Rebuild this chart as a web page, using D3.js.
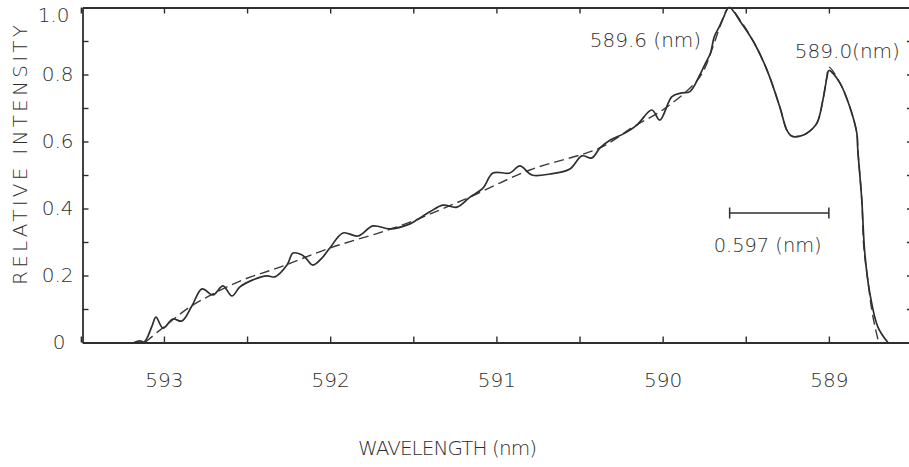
<!DOCTYPE html>
<html>
<head>
<meta charset="utf-8">
<script src="https://cdn.jsdelivr.net/npm/d3@7"></script>
<style>
  html, body { margin: 0; padding: 0; background: #fff; }
  svg text { font-family: 'DejaVu Sans', 'Liberation Sans', sans-serif; font-weight: 200; fill: #2e2e2e; }
</style>
</head>
<body>
<svg id="chart" width="909" height="467"></svg>
<script>
// Measured sodium D-line spectrum (solid) and fitted profile (dashed)
const measuredWavelength = [593.18, 593.145, 593.12, 593.102, 593.072, 593.048, 593.006, 592.946, 592.892, 592.832,
  592.771, 592.705, 592.645, 592.591, 592.543, 592.465, 592.380, 592.332, 592.260, 592.224,
  592.182, 592.152, 592.104, 592.050, 592.002, 591.923, 591.833, 591.743, 591.641, 591.520,
  591.478, 591.400, 591.322, 591.238, 591.159, 591.081, 591.021, 590.919, 590.859, 590.786,
  590.678, 590.558, 590.486, 590.426, 590.377, 590.317, 590.227, 590.155, 590.065, 590.017,
  589.944, 589.884, 589.836, 589.776, 589.742, 589.712, 589.690, 589.660, 589.635, 589.600,
  589.527, 589.449, 589.372, 589.295, 589.253, 589.223, 589.174, 589.132, 589.072, 589.036,
  589.012, 589.000, 588.934, 588.874, 588.832, 588.826, 588.802, 588.784, 588.754, 588.705, 588.645];
const measuredIntensity = [0.000, 0.005, 0.001, 0.013, 0.049, 0.076, 0.043, 0.070, 0.064, 0.109,
  0.160, 0.142, 0.169, 0.139, 0.166, 0.187, 0.199, 0.196, 0.231, 0.267,
  0.264, 0.255, 0.231, 0.252, 0.282, 0.327, 0.318, 0.348, 0.339, 0.354,
  0.366, 0.390, 0.410, 0.404, 0.434, 0.461, 0.506, 0.506, 0.527, 0.500,
  0.503, 0.518, 0.557, 0.551, 0.581, 0.604, 0.625, 0.649, 0.694, 0.664,
  0.734, 0.745, 0.749, 0.799, 0.834, 0.864, 0.912, 0.942, 0.969, 1.000,
  0.954, 0.894, 0.813, 0.703, 0.634, 0.616, 0.616, 0.625, 0.655, 0.724,
  0.790, 0.812, 0.775, 0.703, 0.625, 0.575, 0.425, 0.267, 0.148, 0.046, 0.000];

const fittedWavelength = [593.114, 593.024, 592.844, 592.705, 592.525, 592.302, 592.002, 591.598, 591.202, 590.799,
  590.377, 590.179, 589.974, 589.776, 589.690, 589.647, 589.600,
  589.527, 589.449, 589.372, 589.295, 589.253, 589.223, 589.174, 589.132, 589.072, 589.036,
  589.012, 589.000, 588.934, 588.874, 588.832, 588.826, 588.802, 588.790, 588.766, 588.742, 588.718, 588.700];
const fittedIntensity = [0.000, 0.037, 0.106, 0.145, 0.187, 0.225, 0.282, 0.345, 0.425, 0.515,
  0.581, 0.643, 0.703, 0.793, 0.894, 0.954, 1.000,
  0.957, 0.894, 0.813, 0.703, 0.634, 0.616, 0.616, 0.625, 0.655, 0.724,
  0.795, 0.822, 0.775, 0.703, 0.625, 0.575, 0.425, 0.285, 0.187, 0.097, 0.037, 0.000];

// Axis ticks
const xMajorTicks = [593, 592, 591, 590, 589];
const xMinorTicks = [593.5, 593, 592.5, 592, 591.5, 591, 590.5, 590, 589.5, 589, 588.5];
const yTicks = [0, 0.1, 0.2, 0.3, 0.4, 0.5, 0.6, 0.7, 0.8, 0.9, 1.0];
const yTickLabels = ["0", "", "0.2", "", "0.4", "", "0.6", "", "0.8", "", "1.0"];

// Annotations
const peakLines = [589.6, 589.0];
const peakLabels = ["589.6 (nm)", "589.0(nm)"];
const separation = 0.597;
const separationLabel = "0.597 (nm)";
const xTitle = "WAVELENGTH (nm)";
const yTitle = "RELATIVE INTENSITY";

const svg = d3.select("#chart");
const plotLeft = 82.5, plotRight = 912, plotTop = 7.5, plotBottom = 342.5;

const x = d3.scaleLinear().domain([593.49, 588.5]).range([plotLeft, plotRight]);
const y = d3.scaleLinear().domain([0, 1]).range([plotBottom, plotTop]);

const ink = "#2e2e2e";
const fontSize = 20;

function styleAxis(g) {
  g.selectAll("path.domain").attr("stroke", ink).attr("stroke-width", 1.8);
  g.selectAll(".tick line").attr("stroke", ink).attr("stroke-width", 1.4);
  g.selectAll(".tick text").attr("font-size", fontSize).attr("fill", ink)
    .attr("font-family", "'DejaVu Sans', 'Liberation Sans', sans-serif").attr("font-weight", 200);
}

// Bottom axis: ticks every 0.5 nm, labels on whole nanometres
svg.append("g")
  .attr("transform", `translate(0,${plotBottom})`)
  .call(d3.axisBottom(x).tickValues(xMinorTicks)
    .tickSizeInner(-6).tickSizeOuter(0).tickPadding(30)
    .tickFormat(d => xMajorTicks.includes(d) ? d3.format("d")(d) : ""))
  .call(styleAxis);

// Top frame
svg.append("g")
  .attr("transform", `translate(0,${plotTop})`)
  .call(d3.axisTop(x).tickValues(xMinorTicks).tickSizeInner(-6).tickSizeOuter(0).tickFormat(""))
  .call(styleAxis);

// Left axis
const yAxisG = svg.append("g")
  .attr("transform", `translate(${plotLeft},0)`)
  .call(d3.axisLeft(y).tickValues(yTicks)
    .tickSizeInner(-6).tickSizeOuter(0).tickPadding(9)
    .tickFormat((d, i) => yTickLabels[i]))
  .call(styleAxis);
yAxisG.selectAll(".tick text").filter(d => d === 0).attr("dx", -8);
yAxisG.selectAll(".tick text").filter(d => d === 1).attr("dx", -4).attr("transform", "translate(0,8)");

// Right frame
svg.append("g")
  .attr("transform", `translate(${plotRight},0)`)
  .call(d3.axisRight(y).tickValues(yTicks).tickSizeInner(-5).tickSizeOuter(0).tickFormat(""))
  .call(styleAxis);

// Spectra
const line = d3.line()
  .x(d => x(d[0]))
  .y(d => y(d[1]))
  .curve(d3.curveCatmullRom.alpha(0.5));

const measured = measuredWavelength.map((w, i) => [w, measuredIntensity[i]]);
const fitted = fittedWavelength.map((w, i) => [w, fittedIntensity[i]]);

svg.append("path")
  .datum(fitted)
  .attr("d", line)
  .attr("fill", "none")
  .attr("stroke", "#3a3a3a")
  .attr("stroke-width", 1.4)
  .attr("stroke-dasharray", "10,5");

svg.append("path")
  .datum(measured)
  .attr("d", line)
  .attr("fill", "none")
  .attr("stroke", ink)
  .attr("stroke-width", 1.7)
  .attr("stroke-linejoin", "round");

// Peak labels
const textAttrs = sel => sel.attr("font-size", fontSize);
svg.append("text").call(textAttrs)
  .attr("x", x(peakLines[0]) - 28).attr("y", 47)
  .attr("text-anchor", "end").text(peakLabels[0]);
svg.append("text").call(textAttrs)
  .attr("x", x(peakLines[1]) + 71).attr("y", 58)
  .attr("text-anchor", "end").text(peakLabels[1]);

// D-line separation bar
const barY = 213;
const bar = svg.append("g").attr("stroke", ink).attr("stroke-width", 1.5);
bar.append("line")
  .attr("x1", x(peakLines[1] + separation)).attr("x2", x(peakLines[1]))
  .attr("y1", barY).attr("y2", barY);
[peakLines[1] + separation, peakLines[1]].forEach(v => {
  bar.append("line").attr("x1", x(v)).attr("x2", x(v))
    .attr("y1", barY - 5.5).attr("y2", barY + 5.5);
});
svg.append("text").call(textAttrs)
  .attr("x", x(peakLines[1] + separation) - 16).attr("y", 252)
  .attr("textLength", 108).attr("lengthAdjust", "spacingAndGlyphs")
  .text(separationLabel);

// Axis titles
svg.append("text").call(textAttrs)
  .attr("x", 358).attr("y", 455)
  .attr("textLength", 179).attr("lengthAdjust", "spacing")
  .text(xTitle);

svg.append("text").call(textAttrs)
  .attr("transform", "translate(27,285) rotate(-90)")
  .attr("x", 0).attr("y", 0)
  .attr("textLength", 260).attr("lengthAdjust", "spacing")
  .text(yTitle);
</script>
</body>
</html>
